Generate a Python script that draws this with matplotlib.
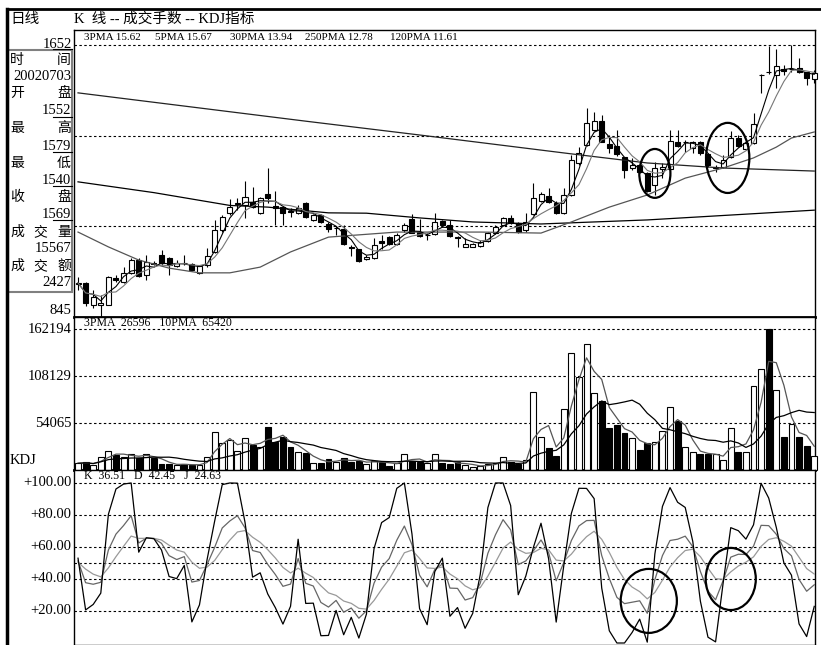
import numpy as np
import pandas as pd
import matplotlib
matplotlib.use("Agg")
import matplotlib.pyplot as plt
from matplotlib.patches import Rectangle, Ellipse
from matplotlib.lines import Line2D

plt.rcParams['font.family'] = ['Noto Sans CJK SC', 'DejaVu Sans']
SERIF = ['Liberation Serif', 'Noto Sans CJK SC']
CJK = ['Noto Sans CJK SC', 'DejaVu Sans']

# daily candles, prices in 0.01 yuan (1652 = 16.52), last day 2002-07-03
opens = [944, 946, 881, 881, 881, 962, 949, 976, 1014, 970,
         1006, 1029, 1020, 996, 1006, 1002, 976, 999, 1038, 1103,
         1153, 1181, 1177, 1186, 1153, 1210, 1173, 1171, 1160, 1153,
         1183, 1133, 1148, 1121, 1108, 1106, 1054, 1047, 1017, 1020,
         1070, 1082, 1062, 1103, 1136, 1097, 1087, 1091, 1130, 1118,
         1083, 1053, 1053, 1056, 1070, 1094, 1118, 1139, 1124, 1103,
         1150, 1189, 1204, 1183, 1153, 1207, 1302, 1355, 1400, 1426,
         1358, 1352, 1320, 1287, 1296, 1272, 1237, 1284, 1284, 1364,
         1363, 1346, 1364, 1329, 1287, 1290, 1320, 1376, 1343, 1361,
         1562, 1573, 1563, 1580, 1580, 1584, 1572, 1552]
closes = [946, 887, 904, 887, 964, 955, 975, 1014, 967, 1008,
          1003, 1005, 999, 1005, 1004, 984, 996, 1026, 1103, 1142,
          1171, 1184, 1201, 1171, 1198, 1198, 1169, 1153, 1158, 1168,
          1142, 1148, 1127, 1106, 1110, 1062, 1051, 1011, 1023, 1059,
          1064, 1062, 1088, 1118, 1094, 1085, 1089, 1127, 1118, 1085,
          1080, 1062, 1062, 1067, 1094, 1112, 1139, 1124, 1097, 1127,
          1198, 1210, 1186, 1153, 1207, 1311, 1332, 1421, 1426, 1364,
          1346, 1329, 1281, 1296, 1275, 1219, 1287, 1290, 1367, 1352,
          1365, 1364, 1332, 1296, 1290, 1311, 1376, 1352, 1361, 1418,
          1564, 1571, 1590, 1576, 1582, 1572, 1554, 1569]
highs = [964, 949, 925, 910, 966, 970, 993, 1020, 1020, 1029,
         1010, 1044, 1023, 1014, 1029, 1005, 999, 1050, 1133, 1148,
         1195, 1198, 1248, 1231, 1201, 1287, 1219, 1172, 1168, 1177,
         1186, 1151, 1151, 1127, 1115, 1118, 1059, 1048, 1029, 1079,
         1088, 1085, 1094, 1124, 1151, 1136, 1094, 1153, 1133, 1133,
         1084, 1079, 1064, 1073, 1097, 1118, 1142, 1148, 1127, 1153,
         1242, 1216, 1228, 1189, 1228, 1326, 1349, 1465, 1453, 1444,
         1385, 1400, 1321, 1317, 1302, 1275, 1305, 1302, 1400, 1400,
         1370, 1367, 1367, 1332, 1296, 1326, 1397, 1385, 1370, 1450,
         1565, 1650, 1640, 1593, 1652, 1614, 1573, 1579]
lows = [925, 878, 872, 845, 880, 950, 946, 974, 964, 955,
        1000, 999, 970, 993, 999, 981, 973, 993, 1035, 1097,
        1148, 1162, 1139, 1168, 1152, 1183, 1118, 1118, 1142, 1150,
        1139, 1130, 1124, 1097, 1088, 1059, 1026, 1008, 1014, 1017,
        1047, 1059, 1059, 1097, 1093, 1082, 1073, 1088, 1112, 1082,
        1053, 1052, 1052, 1053, 1067, 1091, 1115, 1121, 1094, 1097,
        1148, 1186, 1183, 1150, 1150, 1204, 1296, 1352, 1397, 1363,
        1332, 1323, 1257, 1281, 1272, 1216, 1207, 1257, 1281, 1349,
        1334, 1332, 1326, 1290, 1275, 1287, 1317, 1349, 1340, 1358,
        1510, 1565, 1524, 1563, 1572, 1569, 1533, 1540]
volumes = [7700, 8800, 5750, 15300, 22200, 17250, 15300, 18000, 14200, 18400,
           13400, 6900, 6900, 5750, 6900, 5750, 5400, 14600, 43400, 30700,
           34500, 22200, 36400, 28750, 26800, 49800, 32600, 37600, 26800, 21000,
           19200, 7700, 8400, 12300, 9600, 13400, 9600, 10700, 6900, 10700,
           9600, 4600, 7700, 18000, 10350, 9600, 7700, 18000, 7700, 6900,
           9600, 5750, 3800, 4600, 6900, 7700, 14600, 9600, 6500, 11500,
           90100, 38300, 25000, 16100, 69800, 134900, 107300, 144900, 88200, 79400,
           48000, 51800, 42900, 36400, 23000, 31400, 32600, 45200, 72100, 56700,
           26100, 21000, 18000, 18400, 18000, 11500, 48000, 21000, 21000, 96600,
           116200, 162194, 92000, 38300, 52900, 38300, 28000, 15567]

# long moving averages (day index, price)
ma250_days = [0, 15, 30, 45, 55, 65, 75, 85, 97]
ma250_vals = [1510, 1468, 1426, 1385, 1357, 1329, 1302, 1287, 1278]
ma120_days = [0, 10, 20, 25, 33, 38, 45, 52, 61, 75, 97]
ma120_vals = [1246, 1214, 1176, 1171, 1154, 1153, 1139, 1127, 1121, 1133, 1162]
ma30_days = [0, 4, 8, 12, 16, 20, 24, 28, 33, 42, 53, 61, 65, 70, 75, 80, 85, 89, 92, 94, 97]
ma30_vals = [1097, 1053, 1014, 990, 976, 976, 993, 1038, 1082, 1097, 1097, 1094,
             1127, 1171, 1207, 1257, 1287, 1317, 1349, 1376, 1394]

price_grid = [1652, 1383, 1114]
vol_grid = [162194, 108129, 54065]
kdj_grid = [100, 80, 60, 50, 40, 20]
kdj_labels = [(100, '+100.00'), (80, '+80.00'), (60, '+60.00'), (40, '+40.00'), (20, '+20.00')]

ma_header = [('3PMA', '15.62'), ('5PMA', '15.67'), ('30PMA', '13.94'), ('250PMA', '12.78'), ('120PMA', '11.61')]
vol_header = '3PMA  26596   10PMA  65420'
kdj_header = 'K  36.51   D  42.45   J  24.63'

info_labels = [('时', '间'), ('开', '盘'), ('最', '高'), ('最', '低'), ('收', '盘'), ('成', '交', '量'), ('成', '交', '额')]
info_values = ['20020703', '1552', '1579', '1540', '1569', '15567', '2427']

n = len(closes)
idx = np.arange(n)
o = np.array(opens)
c = np.array(closes)
h = np.array(highs)
l = np.array(lows)
v = np.array(volumes)
up = c >= o

ma3 = pd.Series(c).rolling(3, min_periods=1).mean()
ma5 = pd.Series(c).rolling(5, min_periods=1).mean()
vma3 = pd.Series(v).rolling(3, min_periods=1).mean()
vma10 = pd.Series(v).rolling(10, min_periods=1).mean()

# KDJ (3, 3, 3)
hh = pd.Series(h).rolling(3, min_periods=1).max()
ll = pd.Series(l).rolling(3, min_periods=1).min()
rsv = ((pd.Series(c) - ll) / (hh - ll) * 100).to_numpy()
k_line, d_line = [], []
k = d = 50.0
for r in rsv:
    k = (2 * k + r) / 3
    d = (2 * d + k) / 3
    k_line.append(k)
    d_line.append(d)
k_line = np.array(k_line)
d_line = np.array(d_line)
j_line = np.clip(3 * k_line - 2 * d_line, 0, 100)

W, H = 821, 645
fig = plt.figure(figsize=(W / 100, H / 100), dpi=100)


def box(x0, y0, x1, y1):
    return [x0 / W, 1 - y1 / H, (x1 - x0) / W, (y1 - y0) / H]


def ftext(x, y, s, **kw):
    fig.text(x / W, 1 - y / H, s, **kw)


def fline(xs, ys, **kw):
    fig.add_artist(Line2D([x / W for x in xs], [1 - y / H for y in ys],
                          transform=fig.transFigure, color='black', **kw))


ax_p = fig.add_axes(box(74, 30, 815, 317))
ax_v = fig.add_axes(box(74, 317, 815, 470))
ax_k = fig.add_axes(box(74, 470, 815, 645))

xlim = (-0.53, 97.1)
dash = (0, (2.2, 2.2))
for ax in (ax_p, ax_v, ax_k):
    ax.set_xlim(*xlim)
    ax.set_xticks([])
    ax.set_yticks([])
    for s in ax.spines.values():
        s.set_linewidth(1)
ax_p.spines['bottom'].set_linewidth(2)
ax_v.spines['bottom'].set_linewidth(2)

# price panel
ax_p.set_ylim(845, 1696.5)
for g in price_grid:
    ax_p.axhline(g, color='black', lw=0.8, ls=dash, zorder=1)
bw = 0.66
for i in range(n):
    ax_p.vlines(i, l[i], h[i], color='black', lw=0.8, zorder=3)
    lo_b, hi_b = min(o[i], c[i]), max(o[i], c[i])
    ax_p.add_patch(Rectangle((i - bw / 2, lo_b), bw, max(hi_b - lo_b, 0.5),
                             facecolor='white' if up[i] else 'black',
                             edgecolor='black', lw=0.8, zorder=4, clip_on=False))
ax_p.plot(ma250_days, ma250_vals, color='#222222', lw=0.9, zorder=5)
ax_p.plot(ma120_days, ma120_vals, color='black', lw=0.9, zorder=5)
ax_p.plot(ma30_days, ma30_vals, color='#555555', lw=0.9, zorder=5)
ax_p.plot(idx, ma3, color='black', lw=0.8, zorder=5)
ax_p.plot(idx, ma5, color='#777777', lw=0.8, zorder=5)
ax_p.add_patch(Ellipse((76.0, 1271), 4.1, 145, fill=False, lw=1.6, edgecolor='black', zorder=6))
ax_p.add_patch(Ellipse((85.6, 1317), 5.7, 208, fill=False, lw=1.6, edgecolor='black', zorder=6))

# volume panel
ax_v.set_ylim(0, 176000)
for g in vol_grid:
    ax_v.axhline(g, color='black', lw=0.8, ls=dash, zorder=1)
ax_v.bar(idx, v, width=0.78, color=np.where(up, 'white', 'black'),
         edgecolor='black', lw=0.8, zorder=3, clip_on=False)
ax_v.plot(idx, vma3, color='#555555', lw=0.9, zorder=4)
ax_v.plot(idx, vma10, color='black', lw=0.9, zorder=4)

# KDJ panel
ax_k.set_ylim(-1.25, 108.1)
for g in kdj_grid:
    ax_k.axhline(g, color='black', lw=0.8, ls=dash, zorder=1)
ax_k.plot(idx, k_line, color='#666666', lw=0.9, zorder=3)
ax_k.plot(idx, d_line, color='#999999', lw=0.9, zorder=3)
ax_k.plot(idx, j_line, color='black', lw=0.9, zorder=3)
ax_k.add_patch(Ellipse((75.2, 26.3), 7.4, 40, fill=False, lw=1.6, edgecolor='black', zorder=5))
ax_k.add_patch(Ellipse((86.0, 40.0), 6.6, 38.8, fill=False, lw=1.6, edgecolor='black', zorder=5))

# axis labels left of the panels
lab = dict(family=SERIF, fontsize=10.5, ha='right', va='center')
ax_p.text(-0.003, 1652, '1652', transform=ax_p.get_yaxis_transform(), **lab)
ax_p.text(-0.003, 845, '845', transform=ax_p.get_yaxis_transform(),
          family=SERIF, fontsize=10.5, ha='right', va='bottom')
for g in vol_grid:
    ax_v.text(-0.003, g, str(g), transform=ax_v.get_yaxis_transform(), **lab)
for val, s in kdj_labels:
    ax_k.text(-0.003, val, s, transform=ax_k.get_yaxis_transform(), **lab)

# panel headers
hx = [84, 155, 230, 305, 390]
for x, (name, val) in zip(hx, ma_header):
    ftext(x, 37, name + ' ' + val, family=SERIF, fontsize=8, va='center')
ftext(84, 323, vol_header, family=SERIF, fontsize=8.5, va='center')
ftext(84, 476, kdj_header, family=SERIF, fontsize=8.5, va='center')
ftext(10, 19, '日线', family=CJK, fontsize=10.5, va='center')
ftext(74, 19, 'K  线 -- 成交手数 -- KDJ指标', family=SERIF, fontsize=10.5, va='center')
ftext(10, 461, 'KDJ', family=SERIF, fontsize=10.5, va='center')

# info box
fig.add_artist(Rectangle((8 / W, 1 - 292 / H), 64 / W, 242 / H, transform=fig.transFigure,
                         fill=False, edgecolor='#808080', lw=1.5))
label_y = [60, 93, 128, 163, 197, 232, 266]
value_y = [76, 111, 146, 180, 214, 248, 283]
for chars, y in zip(info_labels, label_y):
    if len(chars) == 2:
        ftext(10, y, chars[0], family=CJK, fontsize=10, va='center')
        ftext(71, y, chars[1], family=CJK, fontsize=10, va='center', ha='right')
    else:
        ftext(10, y, chars[0], family=CJK, fontsize=10, va='center')
        ftext(40, y, chars[1], family=CJK, fontsize=10, va='center', ha='center')
        ftext(71, y, chars[2], family=CJK, fontsize=10, va='center', ha='right')
for s, y in zip(info_values, value_y):
    ftext(71, y, s, family=SERIF, fontsize=10.5, va='center', ha='right')
for y in [49, 117, 152, 186, 220]:
    fline([53, 72], [y, y], lw=0.8)

# outer frame
fline([7, 7], [9, 645], lw=2.5)
fline([7, 821], [9, 9], lw=2)

fig.savefig('out.png', dpi=100)
